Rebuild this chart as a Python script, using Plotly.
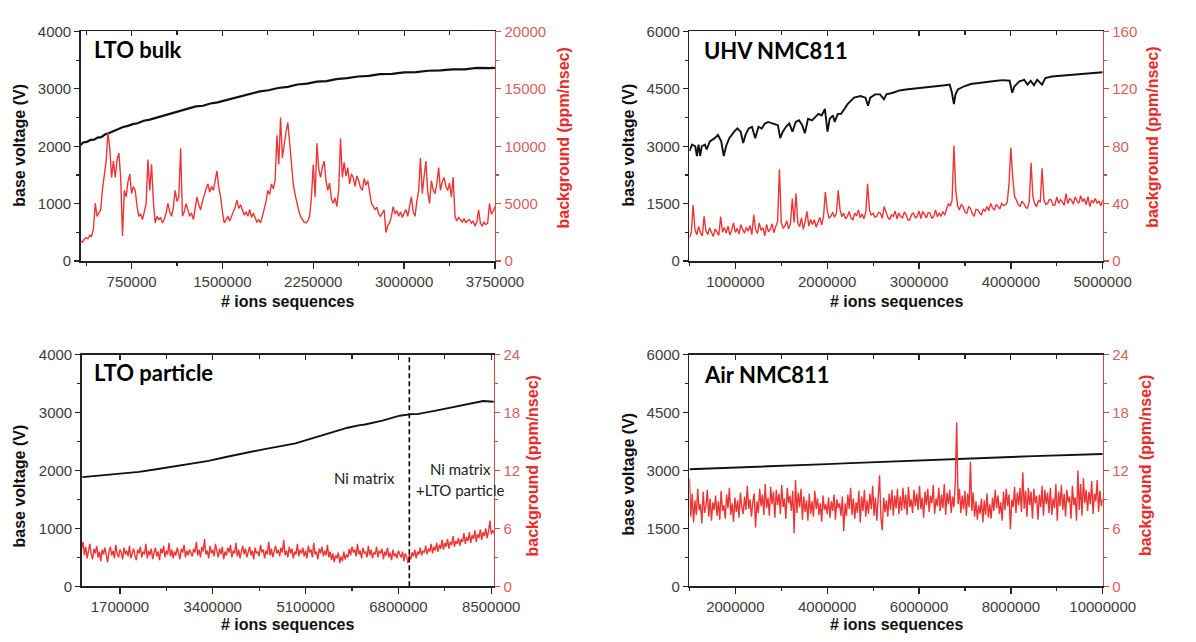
import plotly.graph_objects as go

W, H = 1196, 642

# ---------------- data ----------------
# Panel 1: LTO bulk (voltage x values in thousands of ion sequences)
p1_volt_kx = [330, 350, 380, 410, 440, 470, 500, 530, 560, 600, 640, 680, 720, 760, 800, 850, 900, 950,
              1000, 1060, 1100, 1160, 1220, 1280, 1340, 1400, 1460, 1530, 1600, 1670, 1740, 1810, 1880,
              1960, 2040, 2120, 2200, 2280, 2360, 2440, 2530, 2620, 2710, 2800, 2900, 3000, 3100, 3200,
              3300, 3400, 3500, 3600, 3700, 3750]
p1_volt = [2020, 2065, 2075, 2110, 2115, 2150, 2160, 2205, 2225, 2265, 2295, 2335, 2355, 2385, 2400, 2445,
           2465, 2495, 2520, 2565, 2585, 2625, 2655, 2695, 2705, 2745, 2765, 2805, 2835, 2885, 2915, 2955,
           2975, 3015, 3035, 3075, 3090, 3125, 3135, 3170, 3185, 3215, 3225, 3255, 3260, 3285, 3290, 3315,
           3320, 3340, 3340, 3365, 3360, 3365]
# background sampled every 15 000 sequences from 330 000
p1_bg_start, p1_bg_step = 330000, 15000
p1_bg = [1780, 1650, 1900, 2050, 1950, 2250, 2150, 2800, 5030, 3900, 4200, 4460, 6300, 7570, 8700, 11240, 9830, 7290, 8700, 7290,
         8840, 9400, 7290, 2200, 6160, 5590, 6900, 7570, 5880, 6500, 6160, 4800, 3900, 4100, 3620, 4300, 5030, 8840, 6160, 8420,
         5200, 3330, 3900, 3620, 3800, 3330, 3650, 4200, 5030, 4300, 3900, 4700, 6160, 5200, 5590, 9830, 3900, 4300, 5000, 4460,
         3900, 4200, 3620, 4600, 5590, 4900, 4460, 5200, 5800, 6300, 6720, 6000, 6500, 6160, 7000, 7850, 6400, 5590, 4300, 3330,
         3600, 3900, 3500, 3900, 4200, 4700, 5310, 4600, 4900, 4460, 4000, 4300, 3900, 4500, 3800, 4180, 3700, 3400, 3600, 3330,
         3900, 4460, 5200, 6160, 5800, 6720, 6300, 7000, 10960, 8420, 12510, 8980, 10200, 11240, 12090, 10110, 8700, 6720, 5800, 5030,
         4400, 3900, 3600, 3400, 3330, 3500, 3900, 5600, 8420, 5590, 10250, 8000, 7290, 8200, 8700, 7000, 6160, 6800, 5400, 5030,
         5500, 4750, 6200, 10680, 7290, 8600, 7400, 8140, 6720, 7600, 7290, 6500, 7400, 7000, 6400, 6160, 7200, 6600, 7000, 5900,
         5030, 4800, 4460, 4700, 4100, 3900, 4200, 4460, 2490, 3100, 3330, 3900, 4750, 4100, 4400, 3900, 4300, 3800, 4180, 4500,
         3900, 4600, 5590, 4300, 3900, 5200, 6160, 8980, 5880, 7400, 8700, 6000, 5030, 7000, 6200, 5880, 6700, 8140, 6160, 6900,
         7290, 6500, 6160, 6800, 5590, 7290, 3900, 3500, 3800, 3620, 3400, 3700, 3330, 3550, 3620, 3300, 3500, 3050, 3400, 4460,
         3300, 3050, 3400, 3190, 3300, 5030, 4100, 4320, 4750]

# Panel 2: UHV NMC811
p2_volt_kx = [500, 528, 563.5, 581, 599, 616.5, 634, 669, 687, 722.3, 775, 810.5, 846, 874, 899, 934, 987,
              1022.3, 1057.6, 1085.8, 1110.5, 1145.8, 1181, 1216.4, 1251.7, 1287, 1322, 1357.6, 1410.5,
              1463.4, 1488, 1516.3, 1551.6, 1587, 1622.2, 1657.5, 1692.8, 1728, 1756.3, 1791.6, 1834,
              1869.2, 1904.5, 1939.8, 1975.1, 2003.3, 2028, 2063.3, 2081, 2116.3, 2151.6, 2186.9, 2222.1,
              2257.4, 2292.7, 2363.3, 2416.2, 2444.5, 2469.2, 2522, 2575, 2617.4, 2645.6, 2716.2, 2786.8,
              2857.4, 2928, 2998.5, 3069, 3139.7, 3210.3, 3280.8, 3333.8, 3358.5, 3379.8, 3397.3, 3422,
              3492.6, 3563.2, 3633.7, 3704.3, 3774.9, 3845.5, 3916, 3986.6, 4014.9, 4039.6, 4092.6, 4145.5,
              4180.8, 4216, 4251.3, 4286.6, 4339.5, 4374.8, 4445.4, 4551.3, 4657.2, 4763, 4869, 5000]
p2_volt = [2873, 3042, 3000, 2746, 3042, 2746, 3000, 3042, 2915, 3127, 3212, 3296, 3127, 2746, 3000, 3212,
           3381, 3466, 3381, 3085, 3296, 3466, 3508, 3212, 3508, 3466, 3593, 3635, 3593, 3550, 3212, 3381,
           3508, 3593, 3381, 3635, 3678, 3550, 3339, 3720, 3678, 3762, 3847, 3805, 3974, 3381, 3720, 3805,
           3635, 3847, 3847, 3974, 4101, 4186, 4270, 4313, 4270, 4059, 4270, 4355, 4355, 4228, 4355, 4398,
           4457, 4482, 4499, 4508, 4525, 4542, 4567, 4592, 4609, 4398, 4101, 4355, 4482, 4567, 4626, 4652,
           4677, 4694, 4711, 4728, 4711, 4398, 4567, 4694, 4736, 4609, 4711, 4592, 4736, 4609, 4779, 4821,
           4846, 4863, 4880, 4906, 4931]
# background sampled every 20 000 sequences from 500 000
p2_bg_start, p2_bg_step = 500000, 20000
p2_bg = [16.5, 19.5, 39.1, 22.0, 18.3, 24.1, 19.8, 17.6, 31.2, 21.0, 18.5, 23.3, 19.9, 17.2, 22.5, 20.4, 18.0, 31.0, 20.1, 23.5,
         19.6, 24.4, 18.2, 21.5, 26.7, 20.0, 22.8, 18.8, 25.5, 21.9, 19.5, 23.6, 20.8, 24.9, 18.5, 32.3, 22.1, 19.2, 26.7, 21.4,
         23.3, 17.6, 25.5, 20.5, 22.1, 26.0, 19.8, 24.2, 27.5, 64.0, 26.7, 23.0, 24.4, 28.1, 22.5, 25.9, 43.6, 27.0, 47.0, 26.7,
         24.0, 30.1, 22.1, 27.5, 34.6, 24.4, 29.0, 25.6, 28.9, 23.8, 26.7, 30.5, 25.2, 31.2, 48.1, 35.7, 29.8, 31.2, 34.0, 30.5,
         33.4, 49.3, 35.7, 31.0, 33.4, 29.5, 31.2, 34.6, 30.0, 28.9, 33.4, 31.5, 35.7, 30.2, 32.8, 29.6, 34.1, 53.8, 35.7, 31.9,
         33.4, 30.5, 31.2, 34.0, 33.4, 29.8, 38.0, 33.4, 30.6, 28.9, 32.2, 31.2, 34.8, 29.4, 33.4, 31.0, 30.1, 34.3, 32.3, 28.5,
         28.9, 32.6, 33.4, 30.2, 31.2, 35.0, 29.7, 34.6, 31.8, 30.1, 33.9, 33.4, 29.6, 31.2, 35.7, 30.8, 33.6, 31.2, 34.6, 32.0,
         36.5, 40.2, 38.3, 42.5, 80.5, 49.3, 38.6, 35.7, 39.4, 38.0, 34.2, 33.4, 37.9, 36.8, 33.0, 31.2, 36.1, 35.7, 33.5, 32.3,
         36.4, 34.6, 38.0, 35.2, 40.2, 37.1, 35.7, 39.5, 38.0, 36.3, 40.2, 38.8, 39.1, 41.0, 53.8, 79.1, 58.3, 45.1, 42.5, 39.6,
         38.0, 41.7, 40.2, 37.5, 36.8, 41.4, 68.5, 44.7, 39.8, 38.0, 42.1, 41.4, 64.6, 42.5, 39.5, 40.2, 43.0, 42.5, 38.8, 39.1,
         44.7, 40.2, 42.8, 41.4, 38.9, 47.0, 40.2, 43.5, 42.5, 39.6, 44.7, 41.8, 40.2, 45.6, 41.4, 43.6, 39.2, 44.9, 38.0, 42.5,
         40.8, 43.7, 40.2, 41.9, 38.6, 42.5]

# Panel 3: LTO particle
p3_volt_kx = [1012, 1413, 1700, 2050, 2368, 2687, 3005, 3323, 3642, 3960, 4278, 4597, 4915, 5233, 5552,
              5870, 6093, 6188, 6507, 6825, 7035, 7143, 7462, 7780, 8098, 8353, 8545]
p3_volt = [1885, 1919, 1947, 1975, 2020, 2065, 2109, 2165, 2233, 2300, 2356, 2412, 2468, 2558, 2654, 2738,
           2783, 2794, 2861, 2945, 2973, 2973, 3029, 3091, 3153, 3198, 3186]
# background sampled every 25 000 sequences from 1 000 000
p3_bg_start, p3_bg_step = 1000000, 25000
p3_bg = [3.9, 4.6, 3.2, 4.1, 2.9, 3.7, 4.4, 3.3, 2.8, 3.9, 3.4, 4.2, 3.0, 3.6, 2.6, 3.8, 3.3, 4.0, 3.1, 2.5,
         3.6, 4.1, 3.2, 3.7, 2.9, 4.3, 3.4, 3.0, 3.8, 3.5, 2.8, 4.0, 3.3, 3.7, 3.1, 4.2, 2.9, 3.5, 3.9, 3.2,
         2.7, 3.8, 3.4, 4.1, 3.0, 3.6, 3.3, 4.4, 2.9, 3.7, 3.2, 3.9, 2.8, 3.5, 4.0, 3.1, 3.6, 2.7, 3.9, 3.4,
         4.2, 3.0, 3.7, 3.3, 4.5, 3.1, 3.8, 2.9, 3.6, 3.2, 4.0, 3.4, 2.8, 3.9, 3.5, 4.3, 3.0, 3.7, 3.2, 3.8,
         3.4,
         3.1, 3.9, 3.5, 4.6, 3.2, 3.8, 3.0, 4.1, 3.6, 4.9, 3.3, 3.7, 2.9, 4.2, 3.4, 3.8, 3.1, 4.4, 3.5, 3.0,
         3.9, 3.3, 4.1, 2.8, 3.6, 3.2, 4.0, 3.5, 4.3, 3.0, 3.7, 3.4, 4.5, 3.1, 3.8, 2.9, 3.6, 4.2, 3.3, 3.9,
         3.0, 3.5, 4.1, 3.2, 3.7, 2.8, 4.0, 3.4, 3.6, 3.1, 4.3, 3.5, 3.8, 2.9, 3.7, 3.3, 4.6, 3.2, 3.9, 3.0,
         3.6, 4.2, 3.4, 3.8, 3.1, 4.0, 3.5, 4.8, 3.2, 3.7, 3.0, 4.1, 3.4, 3.9, 2.9, 3.6, 3.3, 4.4, 3.1, 3.8,
         3.4, 4.0, 3.1, 3.7, 2.9, 4.2, 3.5, 3.8, 3.0, 4.5, 3.3, 3.6, 2.8, 3.9, 3.4, 4.1, 3.1, 3.7, 3.2, 4.3,
         3.0, 3.6, 2.7, 3.4, 2.5, 3.2, 2.9, 3.5, 2.4, 3.1, 2.6, 3.6, 2.8, 3.3, 3.0, 3.9, 3.2, 4.1, 3.5, 3.8,
         3.1, 4.4, 3.3, 3.7, 2.9, 4.0, 3.4, 3.6, 3.0, 4.2, 3.2, 3.8, 2.9, 3.5, 3.3, 4.1, 3.0, 3.7, 3.4, 3.9,
         2.8, 3.6, 3.2, 4.0, 3.0, 3.5, 2.7, 3.8, 3.1, 3.4, 2.9, 3.7, 3.3, 3.0, 3.6, 2.6, 3.4, 3.1, 2.4, 3.3,
         2.8, 3.5, 3.1, 3.8, 2.9, 3.6, 3.3, 4.0, 3.2, 3.7, 3.5, 4.2, 3.3, 3.9, 3.6, 4.4, 3.4, 4.1, 3.7, 4.5,
         3.6, 4.3, 3.9, 4.8, 3.8, 4.5, 4.1, 4.9, 3.9, 4.6, 4.3, 5.2, 4.1, 4.7, 4.4, 5.0, 4.2, 4.9, 4.6, 5.5,
         4.4, 5.1, 4.7, 5.6, 4.5, 5.3, 4.9, 5.8, 4.6, 5.4, 5.0, 5.9, 4.8, 5.6, 5.2, 6.0, 5.0, 5.7, 6.8, 5.4,
         5.8, 5.5]
p3_split = 7000000  # boundary between "Ni matrix" and "Ni matrix + LTO particle"

# Panel 4: Air NMC811
p4_volt_kx = [1000, 1500, 2000, 2500, 3000, 3500, 4000, 4500, 5000, 5500, 6000, 6500, 7000, 7500, 8000,
              8500, 9000, 9500, 10000]
p4_volt = [3030, 3050, 3070, 3095, 3120, 3140, 3165, 3190, 3215, 3245, 3265, 3285, 3310, 3330, 3350, 3370,
           3390, 3410, 3425]
# background sampled every 30 000 sequences from 1 000 000
p4_bg_start, p4_bg_step = 1000000, 30000
p4_bg = [11.2, 7.2, 9.6, 6.6, 8.9, 7.4, 10.1, 7.9, 8.5, 6.5, 9.8, 7.6, 8.3, 10.0, 7.2, 9.1, 6.8, 8.7, 7.9, 9.4,
         7.3, 8.8, 6.9, 9.9, 7.8, 8.4, 7.0, 9.5, 8.1, 10.2, 7.4, 8.6, 6.7, 9.2, 7.7, 8.9, 7.1, 9.7, 8.2, 7.5,
         9.3, 7.9, 10.4, 8.0, 9.0, 7.2, 8.7, 9.6, 6.1, 8.8, 7.6, 10.1, 8.3, 9.5, 7.4, 10.6, 8.1, 9.2, 7.3, 10.3,
         8.5, 9.8, 7.1, 10.0, 8.4, 9.6, 7.5, 10.5, 8.2, 9.1, 7.0, 10.2, 8.6, 9.4, 7.8, 9.9, 5.5, 11.0, 7.6, 9.7,
         8.2, 10.1, 6.9, 9.3, 7.7, 8.9, 6.8, 9.6, 7.5, 8.8, 7.2, 9.9, 8.0, 9.1, 7.4, 8.6, 6.7, 9.4, 7.9, 8.5,
         7.5, 9.2, 7.1, 8.8, 7.8, 9.5, 6.9, 9.0, 8.1, 8.6, 7.3, 9.3, 5.7, 8.6, 7.3, 9.5, 8.0, 10.2, 7.4, 9.1,
         7.0, 8.7, 7.6, 9.9, 6.6, 9.3, 7.8, 10.0, 7.2, 8.9, 7.5, 9.6, 8.0, 10.4, 7.3, 9.2, 6.8, 8.7, 11.5, 7.1,
         5.8, 9.2, 7.7, 8.9, 7.2, 9.6, 7.9, 10.0, 7.3, 9.4, 8.1, 10.1, 7.5, 9.3, 7.8, 10.2, 8.0, 9.5, 7.4, 10.3,
         8.2, 9.0, 7.6, 10.0, 8.3, 9.6, 7.9, 10.4, 8.0, 9.2, 7.1, 9.8, 8.4, 10.1, 7.7, 9.4, 8.6, 10.5, 7.5, 9.1,
         8.3, 10.2, 7.8, 9.5, 8.1, 10.6, 7.4, 9.7, 8.5, 10.0, 7.6, 9.3, 8.2, 10.8, 17.0, 8.5, 10.1, 7.6, 9.4, 8.0,
         9.9, 7.3, 9.6, 8.2, 12.9, 7.8, 9.7, 7.2, 8.8, 6.9, 8.4, 7.5, 9.1, 6.6, 8.9, 7.4, 9.6, 7.1, 8.5, 7.0,
         9.2, 7.8, 10.0, 8.1, 9.4, 7.5, 8.7, 6.8, 9.8, 7.9, 10.1, 8.3, 9.5, 5.9, 9.0, 8.2, 10.3, 7.6, 9.7, 8.4,
         10.2, 7.7, 11.8, 8.0, 9.9, 7.2, 10.2, 8.4, 9.8, 7.0, 10.1, 8.6, 9.4, 6.9, 9.5, 8.2, 10.4, 7.3, 10.0, 8.5,
         9.7, 7.6, 10.2, 7.4, 9.1, 8.1, 10.6, 6.8, 9.8, 8.3, 10.5, 7.9, 9.6, 7.2, 10.0, 8.7, 9.3, 7.0, 10.4, 8.4,
         9.2, 6.8, 12.0, 7.9, 10.6, 7.3, 11.2, 8.6, 10.0, 7.8, 9.8, 8.5, 10.9, 7.5, 9.6, 8.8, 11.0, 7.7, 9.9, 8.3,
         9.0]

panel_titles = ["LTO bulk", "UHV NMC811", "LTO particle", "Air NMC811"]
x_title = "# ions sequences"
y_left_title = "base voltage (V)"
y_right_title = "background (ppm/nsec)"

assert len(p1_volt_kx) == len(p1_volt) and len(p2_volt_kx) == len(p2_volt)
assert len(p3_volt_kx) == len(p3_volt) and len(p4_volt_kx) == len(p4_volt)
assert (len(p1_bg), len(p2_bg), len(p3_bg), len(p4_bg)) == (229, 226, 303, 301), \
    (len(p1_bg), len(p2_bg), len(p3_bg), len(p4_bg))

volt_series = [(p1_volt_kx, p1_volt), (p2_volt_kx, p2_volt), (p3_volt_kx, p3_volt), (p4_volt_kx, p4_volt)]
bg_series = [
    dict(x0=p1_bg_start, dx=p1_bg_step, y=p1_bg),
    dict(x0=p2_bg_start, dx=p2_bg_step, y=p2_bg),
    dict(x0=p3_bg_start, dx=p3_bg_step, y=p3_bg),
    dict(x0=p4_bg_start, dx=p4_bg_step, y=p4_bg),
]

# ---------------- layout / styling ----------------
BLACK = "#111111"
AXIS = "#222222"
TICKTXT = "#3c3c3c"
RED_LINE = "#ee3535"
RED_AXIS = "#d24848"
RED_TICKTXT = "#d9605f"
RED_TITLE = "#e82c2c"
FONT = "Liberation Sans, Arial, sans-serif"

cfg = [
    dict(xr=[330000, 3750000], xd=750000, yl=[0, 4000], yld=1000, yr=[0, 20000], yrd=5000,
         box=(83, 509, 23, 259), ttl=(95, 42), lt=(20, 140), rt=(580, 132), bt=300, vw=2.2),
    dict(xr=[500000, 5000000], xd=1000000, yl=[0, 6000], yld=1500, yr=[0, 160], yrd=40,
         box=(709, 1134, 23, 259), ttl=(722, 43), lt=(646, 140), rt=(1185, 132), bt=300, vw=1.9),
    dict(xr=[1000000, 8550000], xd=1700000, yl=[0, 4000], yld=1000, yr=[0, 24], yrd=6,
         box=(84, 508, 355, 593), ttl=(95, 373), lt=(20, 490), rt=(548, 469), bt=632, vw=1.9),
    dict(xr=[1000000, 10000000], xd=2000000, yl=[0, 6000], yld=1500, yr=[0, 24], yrd=6,
         box=(709, 1134, 355, 593), ttl=(722, 375), lt=(646, 478), rt=(1178, 469), bt=632, vw=1.9),
]


def px(x):
    return x / W


def py(y):
    return 1 - y / H


fig = go.Figure()
layout = {}
annotations = []
tickfont = dict(family=FONT, size=15, color=TICKTXT)

for i, c in enumerate(cfg):
    n = i + 1
    xb, yl, yr, xt = n, 2 * i + 1, 2 * i + 2, i + 5
    xref = "x" if xb == 1 else f"x{xb}"
    ylref = "y" if yl == 1 else f"y{yl}"
    yrref = f"y{yr}"
    xtref = f"x{xt}"
    x0, x1, y0, y1 = c["box"]
    vx, v = volt_series[i]

    fig.add_trace(go.Scatter(x=[k * 1000 for k in vx], y=v, mode="lines",
                             line=dict(color=BLACK, width=c["vw"]), xaxis=xref, yaxis=ylref,
                             showlegend=False, hoverinfo="skip"))
    fig.add_trace(go.Scatter(mode="lines", line=dict(color=RED_LINE, width=1.4), xaxis=xref,
                             yaxis=yrref, showlegend=False, hoverinfo="skip", **bg_series[i]))
    fig.add_trace(go.Scatter(x=[], y=[], xaxis=xtref, yaxis=ylref, showlegend=False,
                             hoverinfo="skip"))

    layout["xaxis" + ("" if xb == 1 else str(xb))] = dict(
        domain=[px(x0), px(x1)], anchor=ylref, range=c["xr"], tick0=0, dtick=c["xd"],
        tickformat="d", ticks="outside", ticklen=6, tickwidth=1.3, tickcolor=AXIS,
        showline=True, linecolor=AXIS, linewidth=1.5, mirror=True, showgrid=False,
        zeroline=False, tickfont=tickfont,
        minor=dict(dtick=c["xd"] / 2, ticks="outside", ticklen=3.5, tickwidth=1.2,
                   tickcolor=AXIS, showgrid=False))
    layout["xaxis" + str(xt)] = dict(
        overlaying=xref, side="top", anchor=ylref, range=c["xr"], tick0=0, dtick=c["xd"],
        ticks="inside", ticklen=5, tickwidth=1.2, tickcolor=AXIS, showticklabels=False,
        showline=False, showgrid=False, zeroline=False,
        minor=dict(dtick=c["xd"] / 2, ticks="inside", ticklen=4, tickwidth=1.1,
                   tickcolor=AXIS, showgrid=False))
    layout["yaxis" + ("" if yl == 1 else str(yl))] = dict(
        domain=[py(y1), py(y0)], anchor=xref, range=c["yl"], tick0=0, dtick=c["yld"],
        tickformat="d", ticks="outside", ticklen=5, tickwidth=1.3, tickcolor=AXIS,
        showline=True, linecolor=AXIS, linewidth=1.5, showgrid=False, zeroline=False,
        tickfont=tickfont,
        minor=dict(dtick=c["yld"] / 2, ticks="outside", ticklen=3, tickwidth=1.2,
                   tickcolor=AXIS, showgrid=False))
    layout["yaxis" + str(yr)] = dict(
        overlaying=ylref, side="right", anchor=xref, range=c["yr"], tick0=0, dtick=c["yrd"],
        tickformat="d", ticks="outside", ticklen=5, tickwidth=1.3, tickcolor=RED_AXIS,
        showline=True, linecolor=RED_AXIS, linewidth=1.5, showgrid=False, zeroline=False,
        tickfont=dict(family=FONT, size=15, color=RED_TICKTXT),
        minor=dict(dtick=c["yrd"] / 2, ticks="outside", ticklen=3, tickwidth=1.2,
                   tickcolor=RED_AXIS, showgrid=False))

    # panel label
    annotations.append(dict(text=panel_titles[i], x=px(c["ttl"][0]), y=py(c["ttl"][1]),
                            xref="paper", yref="paper", xanchor="left", yanchor="middle",
                            showarrow=False,
                            font=dict(family="Lato, Open Sans, sans-serif", size=22,
                                      color="#000000", weight="bold")))
    # axis titles
    annotations.append(dict(text=x_title, x=px((x0 + x1) / 2), y=py(c["bt"]), xref="paper",
                            yref="paper", xanchor="center", yanchor="middle", showarrow=False,
                            font=dict(family=FONT, size=16, color="#111111", weight="bold")))
    annotations.append(dict(text=y_left_title, x=px(c["lt"][0]), y=py(c["lt"][1]), xref="paper",
                            yref="paper", xanchor="center", yanchor="middle", textangle=-90,
                            showarrow=False,
                            font=dict(family=FONT, size=16, color="#111111", weight="bold")))
    annotations.append(dict(text=y_right_title, x=px(c["rt"][0]), y=py(c["rt"][1]), xref="paper",
                            yref="paper", xanchor="center", yanchor="middle", textangle=-90,
                            showarrow=False,
                            font=dict(family=FONT, size=16, color=RED_TITLE, weight="bold")))

# region labels in the LTO particle panel
region_font = dict(family="Lato, Open Sans, sans-serif", size=15, color="#222222")
annotations.append(dict(text="Ni matrix", x=px(375), y=py(482), xref="paper", yref="paper",
                        xanchor="center", yanchor="middle", showarrow=False, font=region_font))
annotations.append(dict(text="Ni matrix", x=px(474), y=py(473), xref="paper", yref="paper",
                        xanchor="center", yanchor="middle", showarrow=False, font=region_font))
annotations.append(dict(text="+LTO particle", x=px(473), y=py(494), xref="paper", yref="paper",
                        xanchor="center", yanchor="middle", showarrow=False, font=region_font))

shapes = [dict(type="line", xref="x3", yref="y5 domain", x0=p3_split, x1=p3_split, y0=0, y1=1,
               line=dict(color="#000000", width=1.6, dash="5px,3px"))]

fig.update_layout(
    width=W, height=H, margin=dict(l=0, r=0, t=0, b=0),
    paper_bgcolor="white", plot_bgcolor="white", autosize=False,
    showlegend=False, annotations=annotations, shapes=shapes, **layout)

page_fix = ("document.documentElement.style.margin='0';document.documentElement.style.padding='0';"
            "document.body.style.margin='0';document.body.style.padding='0';"
            "document.documentElement.style.overflow='hidden';document.body.style.overflow='hidden';")
fig.write_html("out.html", post_script=page_fix,
               config={"responsive": False, "displayModeBar": False, "staticPlot": True})
